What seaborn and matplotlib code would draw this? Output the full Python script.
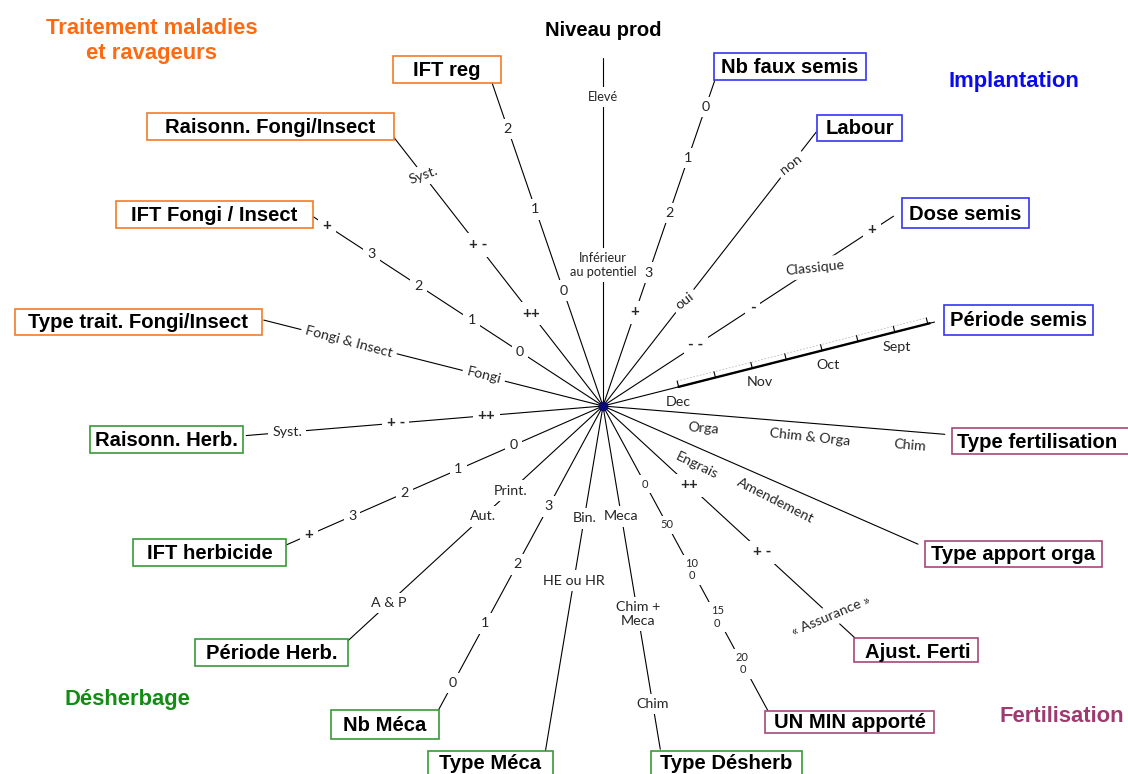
import numpy as np
import pandas as pd
import seaborn as sns
import matplotlib.pyplot as plt
from matplotlib.patches import Rectangle

# ===== data =====
spoke_names = ["Niveau prod", "Nb faux semis", "Labour", "Dose semis", "Période semis",
               "Type fertilisation", "Type apport orga", "Ajust. Ferti", "UN MIN apporté",
               "Type Désherb", "Type Méca", "Nb Méca", "Période Herb.", "IFT herbicide",
               "Raisonn. Herb.", "Type trait. Fongi/Insect", "IFT Fongi / Insect",
               "Raisonn. Fongi/Insect", "IFT reg"]
spoke_groups = ["prod", "impl", "impl", "impl", "impl", "ferti", "ferti", "ferti", "ferti",
                "desh", "desh", "desh", "desh", "desh", "desh", "trait", "trait", "trait", "trait"]
spoke_length = [348, 344, 347, 347, 342, 343, 344, 346, 349, 348, 350, 346, 347, 347, 358,
                350, 346, 345, 347]

tick_labels = [
    ["Elevé", "Inférieur\nau potentiel"],
    ["+", "3", "2", "1", "0"],
    ["oui", "non"],
    ["- -", "-", "Classique", "+"],
    ["Dec", "Nov", "Oct", "Sept"],
    ["Orga", "Chim & Orga", "Chim"],
    ["Engrais", "Amendement"],
    ["++", "+ -", "« Assurance »"],
    ["0", "50", "10\n0", "15\n0", "20\n0"],
    ["Meca", "Chim +\nMeca", "Chim"],
    ["Bin.", "HE ou HR"],
    ["3", "2", "1", "0"],
    ["Print.", "Aut.", "A & P"],
    ["0", "1", "2", "3", "+"],
    ["++", "+ -", "Syst."],
    ["Fongi", "Fongi & Insect"],
    ["0", "1", "2", "3", "+"],
    ["++", "+ -", "Syst."],
    ["0", "1", "2"],
]
tick_radius = [
    [309, 141],
    [99, 141, 204, 262, 316],
    [133, 306],
    [111, 179, 253, 321],
    [74, 158, 228, 299],
    [102, 209, 309],
    [110, 196],
    [117, 216, 310],
    [89, 135, 186, 240, 293],
    [112, 211, 302],
    [114, 177],
    [114, 180, 247, 315],
    [125, 163, 291],
    [98, 158, 217, 274, 321],
    [117, 208, 317],
    [123, 262],
    [99, 157, 220, 277, 330],
    [117, 204, 292],
    [122, 208, 293],
]
# month graduation on "Période semis"
semis_marks = [78, 116, 154, 189, 226, 263, 301, 335]

group_titles = ["Traitement maladies\net ravageurs", "Implantation", "Désherbage", "Fertilisation"]
group_keys = ["trait", "impl", "desh", "ferti"]

# ===== layout / style =====
CX, CY = 603, 406
W, H = 1128, 774
angles = np.deg2rad(90 - np.arange(len(spoke_names)) * 360 / len(spoke_names))

box_edge = {"prod": "none", "impl": "#3535F2", "ferti": "#A8467A", "desh": "#3A9A3A", "trait": "#F47B26"}
title_color = {"trait": "#FF6A10", "impl": "#0A0AF0", "desh": "#148C14", "ferti": "#9E3A70"}
title_pos = {"trait": (152, 41), "impl": (1014, 82), "desh": (127, 699), "ferti": (1062, 717)}

# label boxes (x0, y0, x1, y1) in picture pixels
box_rect = [None,
            (714, 53, 866, 80), (817, 115, 902, 141), (902, 198, 1029, 228),
            (944, 305, 1093, 335), (952, 428, 1135, 454), (925, 541, 1102, 567),
            (854, 638, 978, 662), (765, 711, 934, 733), (651, 751, 802, 780),
            (428, 751, 553, 780), (331, 710, 439, 739), (195, 639, 348, 666),
            (133, 539, 286, 566), (90, 426, 243, 453), (15, 309, 262, 335),
            (116, 201, 313, 228), (147, 113, 394, 140), (393, 56, 501, 83)]
text_dx = {5: -6, 7: 2}
text_dy = {7: 2}

rot = {(2, 0): 38, (2, 1): 38, (3, 2): 6,
       (5, 0): -5, (5, 1): -6, (5, 2): -5,
       (6, 0): -26, (6, 1): -27, (7, 2): 23,
       (15, 0): -14, (15, 1): -15, (17, 2): 20}
perp = {4: -15, 5: -14, 6: -17}

small_font = ["Lato", "DejaVu Sans"]
bold_font = ["Liberation Sans", "DejaVu Sans"]


def pt(r, a, d=0.0):
    x = CX + r * np.cos(a) - d * np.sin(a)
    y = CY - (r * np.sin(a) + d * np.cos(a))
    return x, y


sns.set_theme(style="white")
plt.rcParams["font.family"] = small_font

fig = plt.figure(figsize=(W / 100, H / 100), dpi=100)
ax = fig.add_axes([0, 0, 1, 1])

# spokes
rows = []
for i, name in enumerate(spoke_names):
    ex, ey = pt(spoke_length[i], angles[i])
    rows.append({"spoke": name, "x": CX, "y": CY})
    rows.append({"spoke": name, "x": ex, "y": ey})
lines = pd.DataFrame(rows)
sns.lineplot(data=lines, x="x", y="y", units="spoke", estimator=None, sort=False,
             color="black", lw=0.8, ax=ax, zorder=1)

# graduated sowing period axis
a4 = angles[4]
x0, y0 = pt(semis_marks[0], a4)
x1, y1 = pt(semis_marks[-1] + 2, a4)
ax.plot([x0, x1], [y0, y1], color="black", lw=1.7, zorder=1)
gx0, gy0 = pt(semis_marks[0], a4, 6)
gx1, gy1 = pt(semis_marks[-1], a4, 6)
ax.plot([gx0, gx1], [gy0, gy1], color="#BBBBBB", lw=0.6, ls=(0, (2, 2)), zorder=1)
for r in semis_marks:
    tx0, ty0 = pt(r, a4, 0)
    tx1, ty1 = pt(r, a4, 6)
    ax.plot([tx0, tx1], [ty0, ty1], color="black", lw=0.8, zorder=1)

# tick labels along spokes
for i in list(range(1, len(spoke_names))) + [0]:
    for j, lab in enumerate(tick_labels[i]):
        d = perp.get(i, 0)
        x, y = pt(tick_radius[i][j], angles[i], d)
        size = 10.3
        if i == 0:
            size = 9.2
        elif i == 8:
            size = 8
        weight = "bold" if set(lab) <= set("+- ") else "normal"
        if weight == "bold":
            size = 11
        bb = None if d else dict(boxstyle="square,pad=0.3", fc="white", ec="none")
        ax.text(x, y, lab, ha="center", va="center", fontsize=size, fontweight=weight,
                rotation=rot.get((i, j), 0), rotation_mode="anchor", bbox=bb,
                linespacing=1.15, zorder=3)

# boxed spoke titles
for i, name in enumerate(spoke_names):
    g = spoke_groups[i]
    if box_rect[i] is None:
        ax.text(CX, 31, name, ha="center", va="center", fontsize=14.5, fontweight="bold",
                family=bold_font, color="black", zorder=4)
        continue
    bx0, by0, bx1, by1 = box_rect[i]
    ax.add_patch(Rectangle((bx0, by0), bx1 - bx0, by1 - by0, fc="white",
                           ec=box_edge[g], lw=1.2, zorder=4))
    ax.text((bx0 + bx1) / 2 + text_dx.get(i, 0), (by0 + min(by1, H)) / 2 + 1 + text_dy.get(i, 0),
            name, ha="center", va="center", fontsize=14.6, fontweight="bold",
            family=bold_font, color="black", zorder=5)

# group titles
for key, title in zip(group_keys, group_titles):
    ax.text(*title_pos[key], title, ha="center", va="center", fontsize=15.8,
            fontweight="bold", family=bold_font, color=title_color[key],
            linespacing=1.2, zorder=4)

# centre point
ax.plot([CX], [CY], marker="o", ms=6, color="#0A0A78", zorder=6)

ax.set_xlim(0, W)
ax.set_ylim(H, 0)
ax.set_axis_off()

fig.savefig("out.png", dpi=100)
plt.close(fig)
